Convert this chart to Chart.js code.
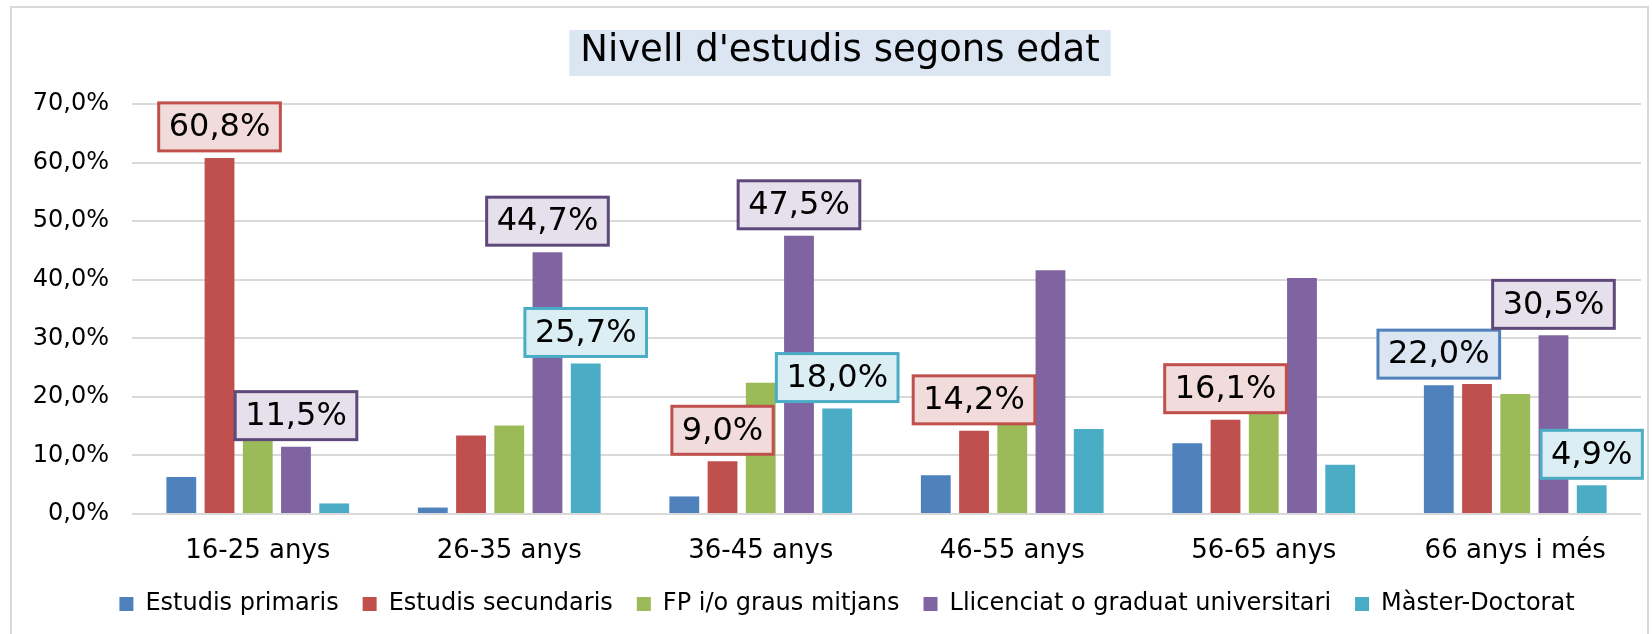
<!DOCTYPE html>
<html>
<head>
<meta charset="utf-8">
<script src="https://cdn.jsdelivr.net/npm/chart.js@4.4.0/dist/chart.umd.min.js"></script>
<style>
  html, body { margin: 0; padding: 0; background: #fff; }
  #wrap { position: relative; width: 1652px; height: 634px; }
</style>
</head>
<body>
<div id="wrap"><canvas id="myChart" width="1652" height="634"></canvas></div>
<script>
var titolGrafic = "Nivell d'estudis segons edat";
var grupsEdat = ["16-25 anys", "26-35 anys", "36-45 anys", "46-55 anys", "56-65 anys", "66 anys i més"];
var nomsSeries = ["Estudis primaris", "Estudis secundaris", "FP i/o graus mitjans", "Llicenciat o graduat universitari", "Màster-Doctorat"];

var estudisPrimaris = [6.3, 1.1, 3.0, 6.6, 12.1, 22.0];
var estudisSecundaris = [60.8, 13.4, 9.0, 14.2, 16.1, 22.2];
var fpGrausMitjans = [19.6, 15.1, 22.4, 23.1, 23.1, 20.5];
var llicenciat = [11.5, 44.7, 47.5, 41.6, 40.3, 30.5];
var masterDoctorat = [1.8, 25.7, 18.0, 14.5, 8.4, 4.9];

// quines etiquetes de dades es mostren (index del grup d'edat)
var etiquetesPrimaris = [5];
var etiquetesSecundaris = [0, 2, 3, 4];
var etiquetesFp = [];
var etiquetesLlicenciat = [0, 1, 2, 5];
var etiquetesMaster = [1, 2, 5];

var ticksEix = [0, 10, 20, 30, 40, 50, 60, 70];

var colorsBarres = ["#4f81bd", "#c0504d", "#9bbb59", "#8064a2", "#4bacc6"];
var colorsVora = ["#4f81bd", "#c0504d", "#9bbb59", "#5f497a", "#4bacc6"];
var colorsFons = ["#dce6f2", "#f2dcdb", "#ebf1de", "#e6e0ec", "#dbeef4"];

var valorsSeries = [estudisPrimaris, estudisSecundaris, fpGrausMitjans, llicenciat, masterDoctorat];
var etiquetesSeries = [etiquetesPrimaris, etiquetesSecundaris, etiquetesFp, etiquetesLlicenciat, etiquetesMaster];

var FONT = "'DejaVu Sans', Verdana, sans-serif";

function formatPct(v) {
  return v.toFixed(1).replace(".", ",") + "%";
}

var datasets = valorsSeries.map(function (vals, i) {
  return {
    label: nomsSeries[i],
    data: vals,
    backgroundColor: colorsBarres[i],
    borderWidth: 0,
    categoryPercentage: 0.76,
    barPercentage: 0.78,
  };
});

// marc del grafic i titol amb fons
var marcTitol = {
  id: "marcTitol",
  beforeDraw: function (chart) {
    var ctx = chart.ctx;
    ctx.save();
    ctx.fillStyle = "#ffffff";
    ctx.fillRect(0, 0, chart.width, chart.height);
    ctx.strokeStyle = "#d9d9d9";
    ctx.lineWidth = 2;
    ctx.strokeRect(11, 7, chart.width - 15, chart.height + 20);

    ctx.font = "37px " + FONT;
    var w = ctx.measureText(titolGrafic).width;
    var cx = 840;
    ctx.fillStyle = "#dce6f2";
    ctx.fillRect(cx - w / 2 - 11, 30, w + 22, 46);
    ctx.fillStyle = "#000";
    ctx.textAlign = "center";
    ctx.textBaseline = "middle";
    ctx.fillText(titolGrafic, cx, 51);
    ctx.restore();
  },
};

// la llegenda va una mica desplaçada a la dreta, com a l'original
var llegendaDesplacada = {
  id: "llegendaDesplacada",
  afterLayout: function (chart) {
    chart.legend.left += 14;
    chart.legend.right += 14;
  },
};

// etiquetes de dades amb requadre
var etiquetesDades = {
  id: "etiquetesDades",
  afterDatasetsDraw: function (chart) {
    var ctx = chart.ctx;
    ctx.save();
    ctx.font = "32px " + FONT;
    ctx.textAlign = "center";
    ctx.textBaseline = "middle";
    etiquetesSeries.forEach(function (idxs, s) {
      var meta = chart.getDatasetMeta(s);
      idxs.forEach(function (j) {
        var bar = meta.data[j];
        var txt = formatPct(valorsSeries[s][j]);
        var w = ctx.measureText(txt).width + 20;
        var h = 48;
        var x = bar.x - w / 2;
        var y = bar.y - 7 - h;
        ctx.fillStyle = colorsFons[s];
        ctx.fillRect(x, y, w, h);
        ctx.strokeStyle = colorsVora[s];
        ctx.lineWidth = 3;
        ctx.strokeRect(x, y, w, h);
        ctx.fillStyle = "#000";
        ctx.fillText(txt, bar.x, y + h / 2 + 1);
      });
    });
    ctx.restore();
  },
};

var ctx = document.getElementById("myChart").getContext("2d");
var myChart = new Chart(ctx, {
  type: "bar",
  data: {
    labels: grupsEdat,
    datasets: datasets,
  },
  options: {
    responsive: false,
    animation: false,
    devicePixelRatio: 1,
    layout: {
      padding: { left: 25, right: 11, top: 104, bottom: 8 },
    },
    scales: {
      x: {
        grid: { display: false },
        border: { display: false },
        afterFit: function (scale) {
          scale.height = 54;
        },
        ticks: {
          color: "#000",
          font: { family: FONT, size: 26 },
          padding: 14,
          maxRotation: 0,
        },
      },
      y: {
        min: 0,
        max: 70,
        afterBuildTicks: function (scale) {
          scale.ticks = ticksEix.map(function (v) { return { value: v }; });
        },
        afterFit: function (scale) {
          scale.width = 107;
        },
        grid: { color: "#d9d9d9", lineWidth: 2, drawTicks: false },
        border: { display: false },
        ticks: {
          color: "#000",
          font: { family: FONT, size: 24 },
          padding: 23,
          callback: function (v) { return formatPct(v); },
        },
      },
    },
    plugins: {
      title: { display: false },
      tooltip: { enabled: false },
      legend: {
        position: "bottom",
        labels: {
          color: "#000",
          font: { family: FONT, size: 24 },
          boxWidth: 14,
          boxHeight: 14,
          padding: 24,
        },
      },
    },
  },
  plugins: [marcTitol, llegendaDesplacada, etiquetesDades],
});
</script>
</body>
</html>
